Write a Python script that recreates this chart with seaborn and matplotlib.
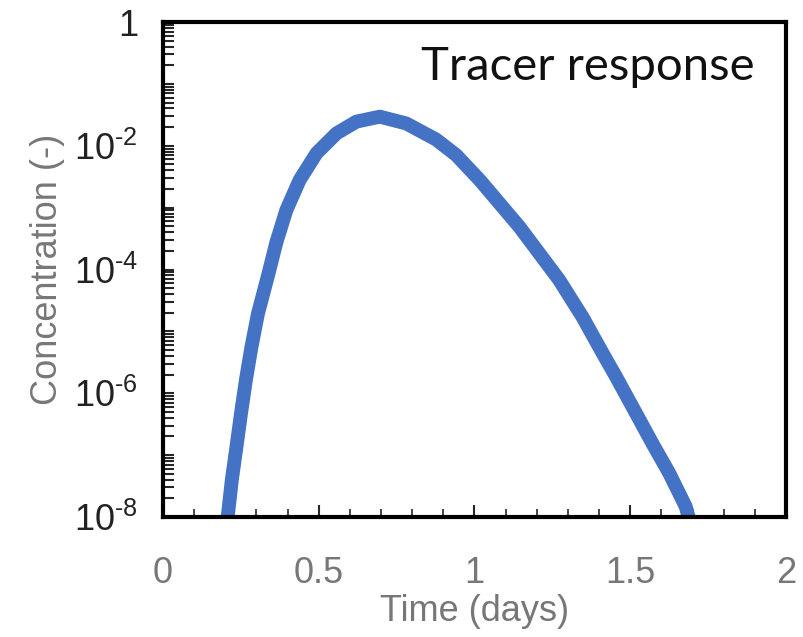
import seaborn as sns
import matplotlib.pyplot as plt
from matplotlib.ticker import FixedLocator, LogLocator, FuncFormatter, MultipleLocator
import numpy as np
import pandas as pd

# values (time in days, log10 of concentration)
time_days = [0.205, 0.209, 0.221, 0.236, 0.250, 0.266, 0.284, 0.305, 0.338,
             0.364, 0.396, 0.439, 0.493, 0.557, 0.621, 0.696, 0.781, 0.877,
             0.941, 1.016, 1.080, 1.144, 1.208, 1.272, 1.347, 1.411, 1.454,
             1.518, 1.571, 1.625, 1.678, 1.690]
log_conc = [-8.10, -7.94, -7.40, -6.86, -6.34, -5.79, -5.25, -4.71, -4.08,
            -3.56, -3.04, -2.55, -2.12, -1.80, -1.61, -1.53, -1.64, -1.90,
            -2.15, -2.55, -2.93, -3.31, -3.74, -4.17, -4.77, -5.35, -5.73,
            -6.32, -6.81, -7.29, -7.83, -8.05]
y_label_exps = [0, -2, -4, -6, -8]
x_ticks = [0, 0.5, 1, 1.5, 2]

df = pd.DataFrame({"time": time_days, "conc": 10.0 ** np.array(log_conc)})

sns.set_style("white")
plt.rcParams['font.family'] = ['Liberation Sans', 'DejaVu Sans']
plt.rcParams['mathtext.fontset'] = 'custom'
plt.rcParams['mathtext.rm'] = 'Liberation Sans'
plt.rcParams['mathtext.it'] = 'Liberation Sans'

fig = plt.figure(figsize=(8.04, 6.37), dpi=100)
ax = fig.add_axes([163 / 804, 1 - 517 / 637, (786 - 163) / 804, (517 - 22) / 637])

sns.lineplot(data=df, x="time", y="conc", ax=ax, color="#4472C4",
             linewidth=10, solid_capstyle="butt", solid_joinstyle="round")

ax.set_yscale("log")
ax.set_ylim(1e-8, 1)
ax.set_xlim(0, 2)

gray = "#777777"
ax.yaxis.set_major_locator(FixedLocator([10.0 ** e for e in y_label_exps]))
ax.yaxis.set_minor_locator(LogLocator(base=10, subs=np.arange(1, 10), numticks=20))
ax.yaxis.set_minor_formatter(FuncFormatter(lambda v, p: ""))

def fmt_y(v, pos):
    e = int(round(np.log10(v)))
    if e == 0:
        return "1"
    return r"$\mathregular{10^{\text{%d}}}$" % e

ax.yaxis.set_major_formatter(FuncFormatter(fmt_y))
ax.xaxis.set_major_locator(FixedLocator(x_ticks))
ax.xaxis.set_major_formatter(FuncFormatter(lambda v, p: "%g" % v))
ax.xaxis.set_minor_locator(MultipleLocator(0.1))

ax.tick_params(axis="y", which="both", direction="in", length=8, width=1.5,
               left=True, right=False, labelsize=26, labelcolor="#222222", pad=18)
ax.tick_params(axis="x", which="major", direction="in", length=9, width=1.5,
               bottom=True, top=False, labelsize=26, labelcolor=gray, pad=28)
ax.tick_params(axis="x", which="minor", direction="in", length=6, width=1.2,
               bottom=True, top=False)

for s in ax.spines.values():
    s.set_visible(True)
    s.set_linewidth(3)
    s.set_color("black")

ax.set_xlabel("Time (days)", fontsize=26, color=gray, labelpad=2)
ax.set_ylabel("Concentration (-)", fontsize=26, color=gray, labelpad=6)

ax.text(0.95, 0.91, "Tracer response", transform=ax.transAxes, ha="right",
        va="center", fontsize=34, family=["Lato", "DejaVu Sans"],
        fontweight="normal", color="#111111")

fig.savefig("out.png", dpi=100)
